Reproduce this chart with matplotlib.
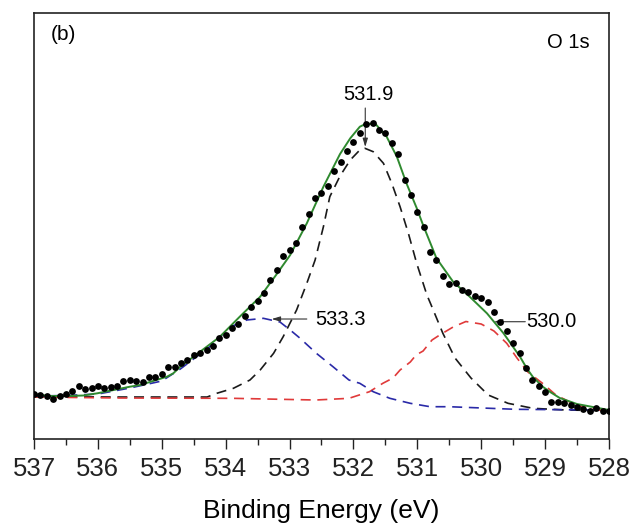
"""XPS O 1s core level, panel (b): raw points, envelope fit and three components."""

import matplotlib

matplotlib.use("Agg")
import matplotlib.pyplot as plt  # noqa: E402

# binding energy of the measured points (eV)
energy = [
    537.0, 536.9, 536.8, 536.7, 536.6, 536.5, 536.4, 536.3, 536.2, 536.1,
    536.0, 535.9, 535.8, 535.7, 535.6, 535.5, 535.4, 535.3, 535.2, 535.1,
    535.0, 534.9, 534.8, 534.7, 534.6, 534.5, 534.4, 534.3, 534.2, 534.1,
    534.0, 533.9, 533.8, 533.7, 533.6, 533.5, 533.4, 533.3, 533.2, 533.1,
    533.0, 532.9, 532.8, 532.7, 532.6, 532.5, 532.4, 532.3, 532.2, 532.1,
    532.0, 531.9, 531.8, 531.7, 531.6, 531.5, 531.4, 531.3, 531.2, 531.1,
    531.0, 530.9, 530.8, 530.7, 530.6, 530.5, 530.4, 530.3, 530.2, 530.1,
    530.0, 529.9, 529.8, 529.7, 529.6, 529.5, 529.4, 529.3, 529.2, 529.1,
    529.0, 528.9, 528.8, 528.7, 528.6, 528.5, 528.4, 528.3, 528.2, 528.1,
    528.0,
]
# measured intensity (a.u.)
counts = [
    44, 43, 42, 38.7, 42, 44.2, 46.8, 52, 48.7, 50.5,
    52.3, 50, 51.3, 52.3, 56.7, 58, 57.3, 56, 61.3, 60.7,
    64, 71, 71, 75, 78, 83, 85, 88.3, 92, 100.5,
    103, 110, 114, 122, 131, 137.5, 145.3, 158, 168.3, 182,
    188, 195.5, 211, 224, 239.7, 245.3, 252.3, 267.3, 275.7, 287,
    296.3, 304.7, 314, 314.7, 308, 305.3, 295.3, 283.7, 258, 243,
    226.3, 210.7, 186, 178, 162, 153.8, 154.7, 148, 146, 142,
    139.7, 135.7, 126.3, 116, 107, 94.7, 85, 69.7, 58, 52,
    46, 36, 36, 35.5, 32.7, 31, 29, 27.2, 30, 27.2,
    27.5,
]

# envelope of the fit
fit_x = [537.0, 536.75, 536.51, 536.23, 536.01, 535.5, 535.34, 534.92, 534.82,
         534.71, 534.4, 534.09, 533.78, 533.46, 533.2, 532.99, 532.73, 532.47,
         532.21, 532.05, 531.9, 531.79, 531.64, 531.48, 531.32, 531.17, 531.01,
         530.91, 530.7, 530.44, 530.18, 529.91, 529.65, 529.39, 529.28, 529.19,
         529.03, 528.92, 528.77, 528.5, 528.25, 528.0]
fit_y = [44, 42, 42, 42.5, 44.7, 51.3, 53, 61.3, 64.7,
         71.3, 86.3, 101.3, 121.3, 141.3, 164, 183, 214.7, 251.3,
         284, 299.7, 311.3, 314.7, 313, 301.3, 281.3, 254.7, 230,
         213, 179.7, 156.3, 141.3, 124.7, 104.7, 81, 69, 61,
         51, 46, 40, 34, 31, 28]

# component at 531.9 eV
c531_x = [537.0, 535.65, 534.29, 534.14, 533.88, 533.62, 533.46, 533.25, 533.1,
          532.89, 532.73, 532.6, 532.47, 532.37, 532.21, 532.05, 531.9, 531.82,
          531.69, 531.53, 531.4, 531.27, 531.14, 531.01, 530.85, 530.79, 530.6,
          530.41, 530.16, 529.89, 529.58, 529.19, 528.67, 528.03]
c531_y = [41.3, 41, 41, 44.7, 49.7, 58, 68, 84.7, 101.3,
          128, 154.7, 178, 211.3, 241.3, 262, 278, 288, 289.7,
          286.3, 274.7, 254.7, 231.3, 204.7, 174.7, 143, 134, 104.7,
          80, 60, 43, 34.7, 29.7, 28, 27.3]

# component at 533.3 eV
c533_x = [537.0, 536.5, 536.0, 535.5, 535.0, 534.71, 534.4, 534.25, 533.93,
          533.67, 533.41, 533.15, 532.99, 532.84, 532.58, 532.32, 532.07, 531.9,
          531.69, 531.43, 531.11, 530.8, 530.5, 529.46, 528.16, 528.0]
c533_y = [42, 42.5, 44, 50, 57, 69, 84, 91.3, 111,
          118, 119.7, 116, 108, 100, 84.7, 71.3, 58, 54.7,
          46.3, 39.7, 34.7, 31.3, 31.3, 28.7, 28, 28]

# component at 530.0 eV
c530_x = [537.0, 535.65, 533.89, 532.59, 532.07, 531.75, 531.54, 531.38, 531.27,
          531.11, 531.02, 530.91, 530.77, 530.65, 530.44, 530.24, 530.0, 529.8,
          529.6, 529.44, 529.27, 529.04, 528.83, 528.52, 528.15, 528.0]
c530_y = [41, 40, 39.7, 38, 39.7, 46.3, 54.7, 60, 68,
          76, 83, 87, 98, 103, 111, 116.5, 114, 107,
          94.7, 80, 66, 54.7, 43, 33, 28, 27.5]

plt.rcParams["font.family"] = ["Liberation Sans", "DejaVu Sans"]

fig = plt.figure(figsize=(6.36, 5.29), dpi=100)
ax = fig.add_axes([0.0535, 0.1701, 0.904, 0.8053])

dash = (0, (6, 4))
ax.plot(c531_x, c531_y, color="#1a1a1a", lw=1.2, ls=dash, zorder=2)
ax.plot(c530_x, c530_y, color="#e03a3a", lw=1.2, ls=dash, zorder=2)
ax.plot(c533_x, c533_y, color="#2a2aa8", lw=1.2, ls=dash, zorder=2)
ax.plot(fit_x, fit_y, color="#2f8a2f", lw=1.4, zorder=3)
ax.scatter(energy, counts, s=24, color="black", linewidths=0, zorder=4)

arrow = dict(arrowstyle="-|>,head_length=0.5,head_width=0.15", lw=0.8,
             color="#333333", shrinkA=0, shrinkB=0)
ax.text(531.77, 344, "531.9", fontsize=14.5, ha="center", va="center")
ax.annotate("", xy=(531.815, 291), xytext=(531.815, 330), arrowprops=arrow)
ax.text(532.59, 119, "533.3", fontsize=14.5, ha="left", va="center")
ax.annotate("", xy=(533.28, 119), xytext=(532.73, 119), arrowprops=arrow)
ax.text(529.29, 116.3, "530.0", fontsize=14.5, ha="left", va="center")
ax.annotate("", xy=(529.80, 116.3), xytext=(529.31, 116.3), arrowprops=arrow)
ax.text(528.975, 395.3, "O 1s", fontsize=14.5, ha="left", va="center")
ax.text(536.74, 403.7, "(b)", fontsize=15, ha="left", va="center")

ax.set_xlim(537, 528)
ax.set_ylim(-1, 425)
ax.set_xticks(range(537, 527, -1))
ax.set_xticks([536.5 - i for i in range(9)], minor=True)
ax.tick_params(axis="x", which="major", direction="out", length=7, width=1,
               labelsize=18.5, pad=6, colors="#222222")
ax.tick_params(axis="x", which="minor", direction="out", length=4, width=1,
               colors="#222222")
ax.set_yticks([])
for side in ax.spines.values():
    side.set_linewidth(1.2)
    side.set_color("#222222")
ax.set_xlabel("Binding Energy (eV)", fontsize=19, labelpad=13)

fig.savefig("out.png", dpi=100)
